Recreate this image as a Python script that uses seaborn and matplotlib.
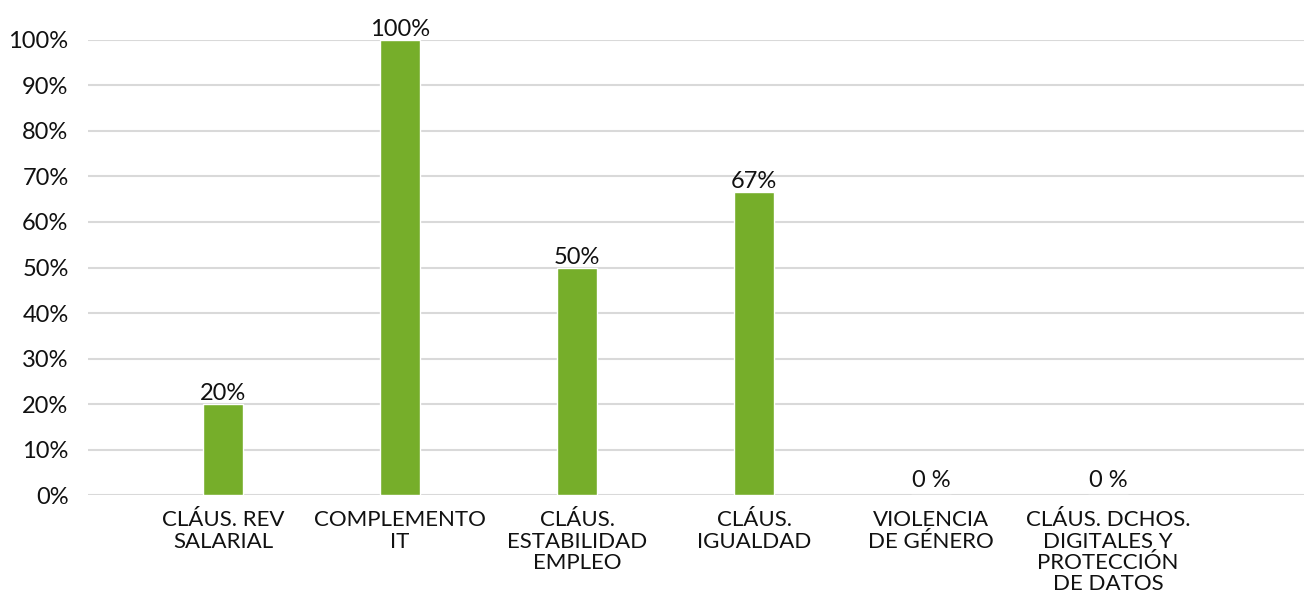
import matplotlib
matplotlib.use("Agg")
import matplotlib.pyplot as plt
import seaborn as sns
import pandas as pd

categories = [
    "CLÁUS. REV\nSALARIAL",
    "COMPLEMENTO\nIT",
    "CLÁUS.\nESTABILIDAD\nEMPLEO",
    "CLÁUS.\nIGUALDAD",
    "VIOLENCIA\nDE GÉNERO",
    "CLÁUS. DCHOS.\nDIGITALES Y\nPROTECCIÓN\nDE DATOS",
]
values = [0.20, 1.00, 0.50, 2 / 3, 0.0, 0.0]
y_ticks = [0.0, 0.1, 0.2, 0.3, 0.4, 0.5, 0.6, 0.7, 0.8, 0.9, 1.0]

sns.set_theme(style="white")
plt.rcParams["font.family"] = ["Lato", "DejaVu Sans"]

df = pd.DataFrame({"categoria": categories, "valor": values})

fig = plt.figure(figsize=(13.04, 6.05), dpi=100)
ax = fig.add_axes([0.0675, 0.1818, 0.9325, 0.7521])

sns.barplot(data=df, x="categoria", y="valor", color="#76AE2A",
            saturation=1, width=0.226, ax=ax, zorder=3)

ax.set_ylim(0, 1.0)
ax.set_xlim(-0.763, 6.107)
ax.set_yticks(y_ticks)
ax.set_yticklabels([f"{round(t * 100)}%" for t in y_ticks], fontsize=17,
                   color="#111111")
ax.tick_params(axis="y", length=0, pad=14)
ax.tick_params(axis="x", length=0, pad=11, labelsize=16, labelcolor="#111111")
for lbl in ax.get_xticklabels():
    lbl.set_linespacing(1.08)
ax.set_xlabel("")
ax.set_ylabel("")

ax.grid(axis="y", color="#D9D9D9", linewidth=1.5, zorder=0)
ax.grid(axis="x", visible=False)
for s in ax.spines.values():
    s.set_visible(False)

for i, v in enumerate(values):
    txt = f"{round(v * 100)}%" if v > 0 else "0 %"
    ax.annotate(txt, (i, v), xytext=(0, 0 if v > 0 else 3),
                textcoords="offset points", ha="center", va="bottom",
                fontsize=17, color="#111111", annotation_clip=False)

fig.savefig("out.png", dpi=100)
